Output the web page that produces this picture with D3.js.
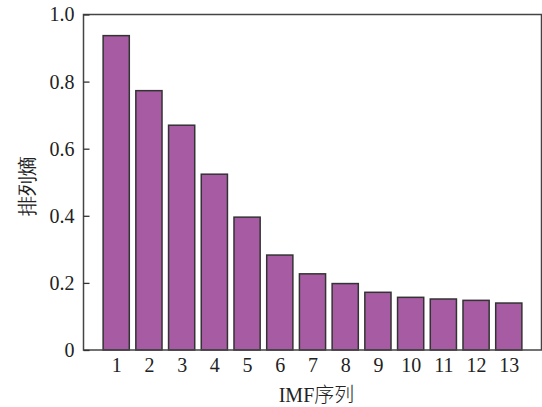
<!DOCTYPE html>
<html>
<head>
<meta charset="utf-8">
<script src="https://cdn.jsdelivr.net/npm/d3@7"></script>
<style>
  body { margin: 0; background: #fff; }
  svg text { font-family: "Liberation Serif", "DejaVu Serif", serif; fill: #222; }
</style>
</head>
<body>
<div id="chart"></div>
<script>
const categories = [1, 2, 3, 4, 5, 6, 7, 8, 9, 10, 11, 12, 13];
const entropy = [0.937, 0.773, 0.670, 0.524, 0.396, 0.283, 0.227, 0.198, 0.172, 0.157, 0.152, 0.148, 0.140];
const yTicks = [0, 0.2, 0.4, 0.6, 0.8, 1.0];
const xLabel = 'IMF序列';
const yLabel = '排列熵';

const width = 542, height = 407;
const margin = {left: 83.5, right: 0.5, top: 14.5, bottom: 57};
const plotW = width - margin.left - margin.right;
const plotH = height - margin.top - margin.bottom;

const svg = d3.select('#chart').append('svg')
    .attr('width', width)
    .attr('height', height);

const chart = svg.append('g')
    .attr('transform', `translate(${margin.left},${margin.top})`);

const x = d3.scaleLinear().domain([0, 14]).range([0, plotW]);
const y = d3.scaleLinear().domain([0, 1]).range([plotH, 0]);
const barW = (x(1) - x(0)) * 0.8;

const data = categories.map((c, i) => ({key: c, value: entropy[i]}));

chart.selectAll('.bar')
    .data(data)
    .enter()
    .append('rect')
    .attr('class', 'bar')
    .attr('x', d => x(d.key) - barW / 2)
    .attr('y', d => y(d.value))
    .attr('width', barW)
    .attr('height', d => plotH - y(d.value))
    .attr('fill', '#a75ba3')
    .attr('stroke', '#333')
    .attr('stroke-width', 1.5);

// frame
chart.append('rect')
    .attr('width', plotW)
    .attr('height', plotH)
    .attr('fill', 'none')
    .attr('stroke', '#444')
    .attr('stroke-width', 1.5);

const yAxis = d3.axisLeft(y)
    .tickValues(yTicks)
    .tickSize(-6)
    .tickPadding(9)
    .tickFormat(d => d === 0 ? '0' : d3.format('.1f')(d));

const yg = chart.append('g').call(yAxis);
yg.select('.domain').remove();
yg.selectAll('.tick line').attr('stroke', '#333').attr('stroke-width', 1.3);
yg.selectAll('.tick text')
    .attr('font-size', 20)
    .attr('font-family', '"Liberation Serif", serif')
    .attr('fill', '#222');

const xAxis = d3.axisBottom(x)
    .tickValues(categories)
    .tickSize(0)
    .tickPadding(8)
    .tickFormat(d3.format('d'));

const xg = chart.append('g')
    .attr('transform', `translate(0,${plotH})`)
    .call(xAxis);
xg.select('.domain').remove();
xg.selectAll('.tick text')
    .attr('font-size', 20)
    .attr('font-family', '"Liberation Serif", serif')
    .attr('fill', '#222');

svg.append('text')
    .attr('x', margin.left + plotW / 2 + 4)
    .attr('y', 402)
    .attr('text-anchor', 'middle')
    .attr('font-size', 20)
    .text('IMF')
    .append('tspan')
    .attr('font-family', '"Noto Sans CJK SC", sans-serif')
    .attr('font-weight', 300)
    .attr('font-size', 20)
    .text('序列');

svg.append('text')
    .attr('transform', `translate(34,${margin.top + plotH / 2 + 4}) rotate(-90)`)
    .attr('text-anchor', 'middle')
    .attr('font-family', '"Noto Sans CJK SC", sans-serif')
    .attr('font-weight', 300)
    .attr('font-size', 20)
    .text(yLabel);
</script>
</body>
</html>
